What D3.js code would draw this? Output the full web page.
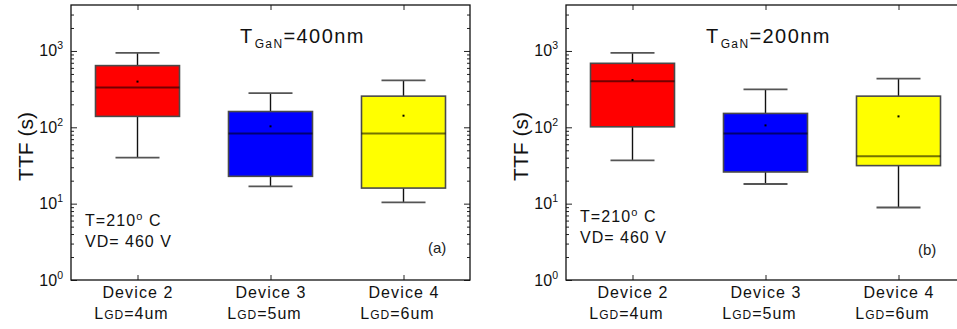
<!DOCTYPE html>
<html>
<head>
<meta charset="utf-8">
<script src="https://cdn.jsdelivr.net/npm/d3@7/dist/d3.min.js"></script>
<style>
  html, body { margin: 0; padding: 0; background: #fff; }
  svg { display: block; font-family: "Liberation Sans", Arial, sans-serif; }
</style>
</head>
<body>
<svg id="chart" width="957" height="329"></svg>
<script>
// Device categories and gate-drain lengths
const devices = ["Device 2", "Device 3", "Device 4"];
const lgd = ["4um", "5um", "6um"];
const boxColors = ["#ff0000", "#0000ff", "#ffff00"];

// Decade tick exponents on the TTF axis
const decades = [0, 1, 2, 3];

// TTF box statistics (s), T_GaN = 400 nm
const a_whiskerLow = [40, 16.8, 10.4];
const a_q1         = [139, 22.8, 16.0];
const a_median     = [331, 83, 83];
const a_q3         = [643, 161, 256];
const a_whiskerHigh= [944, 281, 412];
const a_mean       = [397, 103, 142];

// TTF box statistics (s), T_GaN = 200 nm
const b_whiskerLow = [37, 18.1, 8.9];
const b_q1         = [101.5, 26, 31.5];
const b_median     = [400, 83, 41.8];
const b_q3         = [689, 152, 256];
const b_whiskerHigh= [944, 314, 434];
const b_mean       = [417, 106, 139];

const panels = [
  { left: 71, thick: "400nm", tag: "(a)", titleX: 169, cond1Y: 226, cond2Y: 247, tagX: 357, tagY: 253,
    low: a_whiskerLow, q1: a_q1, med: a_median, q3: a_q3, high: a_whiskerHigh, mean: a_mean },
  { left: 566, thick: "200nm", tag: "(b)", titleX: 140, cond1Y: 222, cond2Y: 243, tagX: 352, tagY: 255,
    low: b_whiskerLow, q1: b_q1, med: b_median, q3: b_q3, high: b_whiskerHigh, mean: b_mean }
];

const svg = d3.select("#chart");
const plotW = 399, plotTop = 5, plotBottom = 280;

const y = d3.scaleLog().domain([1, 4000]).range([plotBottom, plotTop]);
const majors = decades.map(e => Math.pow(10, e));
const minors = [];
decades.forEach(e => { for (let k = 2; k <= 9; k++) { const v = k * Math.pow(10, e); if (v < 4000) minors.push(v); } });

panels.forEach(p => {
  const g = svg.append("g").attr("transform", `translate(${p.left},0)`);
  const x = d3.scalePoint().domain(devices).range([0, plotW]).padding(0.5);
  const bw = 84, cw = 44;

  // axes with inward ticks
  g.append("g").call(d3.axisLeft(y).tickValues(majors).tickSize(-6).tickFormat(""));
  g.append("g").call(d3.axisLeft(y).tickValues(minors).tickSize(-3).tickFormat(""));
  g.append("g").attr("transform", `translate(${plotW},0)`).call(d3.axisRight(y).tickValues(majors).tickSize(-6).tickFormat(""));
  g.append("g").attr("transform", `translate(${plotW},0)`).call(d3.axisRight(y).tickValues(minors).tickSize(-3).tickFormat(""));
  g.append("g").attr("transform", `translate(0,${plotBottom})`).call(d3.axisBottom(x).tickSize(-5).tickFormat(""));
  g.append("g").attr("transform", `translate(0,${plotTop})`).call(d3.axisTop(x).tickSize(-5).tickFormat(""));
  g.selectAll(".domain").remove();
  g.selectAll(".tick line").attr("stroke", "#222").attr("stroke-width", 1);

  g.append("rect").attr("x", 0).attr("y", plotTop).attr("width", plotW).attr("height", plotBottom - plotTop)
    .attr("fill", "none").attr("stroke", "#111").attr("stroke-width", 1.3);

  // decade labels 10^n
  decades.forEach(e => {
    const t = g.append("text").attr("x", -8).attr("y", y(Math.pow(10, e)) + 5.5)
      .attr("text-anchor", "end").attr("font-size", 16).attr("fill", "#111");
    t.append("tspan").text("10");
    t.append("tspan").attr("font-size", 10.5).attr("dy", -7).text(String(e));
  });

  // y axis title
  g.append("text").attr("transform", `translate(-38,${(plotTop + plotBottom) / 2 + 4}) rotate(-90)`)
    .attr("text-anchor", "middle").attr("font-size", 21).attr("fill", "#111").text("TTF (s)");

  // boxes
  devices.forEach((d, i) => {
    const cx = x(d);
    g.append("line").attr("x1", cx).attr("x2", cx).attr("y1", y(p.high[i])).attr("y2", y(p.q3[i]))
      .attr("stroke", "#111").attr("stroke-width", 1.4);
    g.append("line").attr("x1", cx).attr("x2", cx).attr("y1", y(p.q1[i])).attr("y2", y(p.low[i]))
      .attr("stroke", "#111").attr("stroke-width", 1.4);
    [p.high[i], p.low[i]].forEach(v => {
      g.append("line").attr("x1", cx - cw / 2).attr("x2", cx + cw / 2).attr("y1", y(v)).attr("y2", y(v))
        .attr("stroke", "#555").attr("stroke-width", 1.8);
    });
    g.append("rect").attr("x", cx - bw / 2).attr("width", bw)
      .attr("y", y(p.q3[i])).attr("height", y(p.q1[i]) - y(p.q3[i]))
      .attr("fill", boxColors[i]).attr("stroke", "#4a4a4a").attr("stroke-width", 1.6);
    g.append("line").attr("x1", cx - bw / 2).attr("x2", cx + bw / 2)
      .attr("y1", y(p.med[i])).attr("y2", y(p.med[i]))
      .attr("stroke", "#000").attr("stroke-opacity", 0.55).attr("stroke-width", 2);
    g.append("rect").attr("x", cx - 1).attr("y", y(p.mean[i]) - 1).attr("width", 2).attr("height", 2).attr("fill", "#000");

    // category labels
    g.append("text").attr("x", cx + 0.5).attr("y", 298).attr("text-anchor", "middle")
      .attr("font-size", 16).attr("letter-spacing", 1.1).attr("fill", "#111").text(d);
    const t = g.append("text").attr("x", cx - 6).attr("y", 319).attr("text-anchor", "middle")
      .attr("font-size", 16).attr("letter-spacing", 1).attr("fill", "#111");
    t.append("tspan").text("L");
    t.append("tspan").attr("font-size", 12).text("GD");
    t.append("tspan").text("=" + lgd[i]);
  });

  // title
  const tt = g.append("text").attr("x", p.titleX).attr("y", 43).attr("font-size", 20)
    .attr("letter-spacing", 1.4).attr("fill", "#111");
  tt.append("tspan").text("T");
  tt.append("tspan").attr("font-size", 12).attr("dy", 5).attr("dx", 1).text("GaN");
  tt.append("tspan").attr("dy", -5).text("=" + p.thick);

  // test conditions
  const c1 = g.append("text").attr("x", 14).attr("y", p.cond1Y).attr("font-size", 16)
    .attr("letter-spacing", 1.1).attr("fill", "#111");
  c1.append("tspan").text("T=210");
  c1.append("tspan").attr("font-size", 11).attr("dy", -6).text("o");
  c1.append("tspan").attr("dy", 6).text(" C");
  g.append("text").attr("x", 14).attr("y", p.cond2Y).attr("font-size", 16)
    .attr("letter-spacing", 1).attr("fill", "#111").text("VD= 460 V");
  g.append("text").attr("x", p.tagX).attr("y", p.tagY).attr("font-size", 15).attr("fill", "#222").text(p.tag);
});
</script>
</body>
</html>
